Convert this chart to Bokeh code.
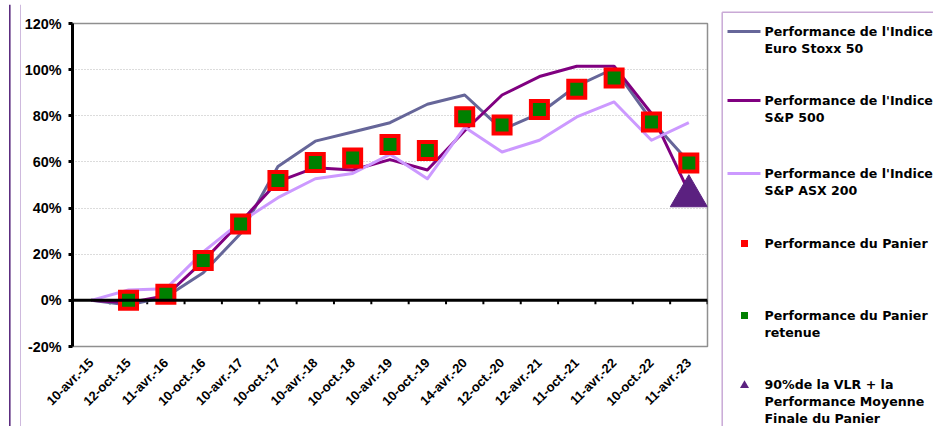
import math
from bokeh.plotting import figure
from bokeh.layouts import row, column
from bokeh.models import (FactorRange, Range1d, FixedTicker, PrintfTickFormatter, Span,
                          ColumnDataSource)
from bokeh.transform import dodge
from bokeh.core.properties import value
from bokeh.embed import file_html
from bokeh.resources import INLINE

# ---------------- data ----------------
dates = ["10-avr.-15", "12-oct.-15", "11-avr.-16", "10-oct.-16", "10-avr.-17", "10-oct.-17",
         "10-avr.-18", "10-oct.-18", "10-avr.-19", "10-oct.-19", "14-avr.-20", "12-oct.-20",
         "12-avr.-21", "11-oct.-21", "11-avr.-22", "10-oct.-22", "11-avr.-23"]
euro_stoxx = [0, -2, 1.5, 12, 29, 58, 69, 73, 77, 85, 89, 74, 81, 93, 100.5, 78, 60]
sp500 = [0, -1, 2, 17, 34, 51.5, 57.5, 56.5, 61, 56.5, 73.5, 89, 97, 101.5, 101.5, 81, 47]
asx200 = [0, 4.5, 5, 21, 34, 44.5, 52.7, 55, 63.3, 52.7, 75, 64.3, 69.4, 79.5, 86, 69.4, 77]
panier_dates = dates[1:]
panier = [0, 2.7, 17.3, 33.1, 52, 59.7, 61.7, 67.6, 65, 79.6, 76, 82.7, 91.5, 96.4, 77.3, 59.5]
panier_retenue = [0, 2.7, 17.3, 33.1, 52, 59.7, 61.7, 67.6, 65, 79.6, 76, 82.7, 91.5, 96.4, 77.3, 59.5]
vlr_dates = ["11-avr.-23"]
vlr_values = [47.6]
y_ticks = [-20, 0, 20, 40, 60, 80, 100, 120]

legend_labels = [
    ["Performance de l'Indice", "Euro Stoxx 50"],
    ["Performance de l'Indice", "S&P 500"],
    ["Performance de l'Indice", "S&P ASX 200"],
    ["Performance du Panier"],
    ["Performance du Panier", "retenue"],
    ["90%de la VLR + la", "Performance Moyenne", "Finale du Panier"],
]

# ---------------- styles / geometry (page pixels) ----------------
C_EURO = "#666699"
C_SP = "#800080"
C_ASX = "#CC99FF"
C_RED = "#FF0000"
C_GREEN = "#008000"
C_TRI = "#5B2180"
C_FRAME = "#5c2d80"
W_TOTAL, H_TOTAL = 933, 426
TOP_H = 4
ROW_H = H_TOTAL - TOP_H
STRIP_W = 21
LEG_X0 = 715
FL, FR, FT, FB = 71, 707, 23, 346


def deco_fig(x0, x1, y0, y1):
    f = figure(width=x1 - x0, height=y1 - y0, x_range=Range1d(x0, x1), y_range=Range1d(y1, y0),
               output_backend="svg", toolbar_location=None, min_border=0,
               x_axis_location=None, y_axis_location=None, frame_align=False)
    f.outline_line_color = None
    f.grid.visible = False
    return f


# top rule
top = deco_fig(0, W_TOTAL, 0, TOP_H)
top.quad(left=[8], right=[W_TOTAL], top=[0], bottom=[3.6], fill_color=C_FRAME, line_color=None)

# left rules
strip = deco_fig(0, STRIP_W, TOP_H, H_TOTAL)
strip.line([9.3, 9.3], [TOP_H, H_TOTAL], line_color=C_FRAME, line_width=1.6)
strip.line([20.6, 20.6], [TOP_H, H_TOTAL], line_color="#9466b4", line_width=1.1)

# ---------------- main chart ----------------
p = figure(x_range=FactorRange(factors=dates), y_range=Range1d(-20, 120),
           width=LEG_X0 - STRIP_W, height=ROW_H, output_backend="svg", toolbar_location=None,
           min_border_left=FL - STRIP_W, min_border_right=LEG_X0 - FR,
           min_border_top=FT - TOP_H, min_border_bottom=H_TOTAL - FB, frame_align=False)
p.outline_line_color = "#8f8f8f"
p.outline_line_width = 1.5
p.xgrid.visible = False
p.ygrid.grid_line_color = "#b8b8b8"
p.ygrid.grid_line_dash = "1 2"
p.ygrid.grid_line_width = 1

p.yaxis.ticker = FixedTicker(ticks=y_ticks)
p.yaxis.formatter = PrintfTickFormatter(format="%d%%")
p.yaxis.axis_line_color = "black"
p.yaxis.axis_line_width = 3
p.yaxis.major_tick_line_color = "black"
p.yaxis.major_tick_line_width = 3
p.yaxis.major_tick_out = 4
p.yaxis.major_tick_in = 0
p.yaxis.minor_tick_line_color = None
p.yaxis.major_label_standoff = 7
p.yaxis.major_label_text_font = "Liberation Sans"
p.yaxis.major_label_text_font_style = "bold"
p.yaxis.major_label_text_font_size = "14.4px"
p.yaxis.major_label_text_color = "black"

p.xaxis.axis_line_color = None
p.xaxis.major_tick_line_color = None
p.xaxis.minor_tick_line_color = None
p.xaxis.major_label_orientation = math.pi / 4
p.xaxis.major_label_standoff = 8
p.xaxis.major_label_text_font = "Liberation Sans"
p.xaxis.major_label_text_font_style = "bold"
p.xaxis.major_label_text_font_size = "13px"
p.xaxis.major_label_text_color = "black"

# zero axis line with small tick marks at category boundaries
p.add_layout(Span(location=0, dimension="width", line_color="black", line_width=3))
p.segment(x0=[(d, 0.5) for d in dates], y0=[0] * len(dates),
          x1=[(d, 0.5) for d in dates], y1=[-1.7] * len(dates),
          line_color="black", line_width=2)

p.line(dates, euro_stoxx, line_color=C_EURO, line_width=3, line_join="round")
p.line(dates, sp500, line_color=C_SP, line_width=3, line_join="round")
p.line(dates, asx200, line_color=C_ASX, line_width=3, line_join="round")

p.scatter(panier_dates, panier, marker="square", size=21, fill_color=C_RED, line_color=None)
p.scatter(panier_dates, panier_retenue, marker="square", size=13, fill_color=C_GREEN, line_color=None)

tri_src = ColumnDataSource(data=dict(x=vlr_dates, y=vlr_values))
p.scatter(x="x", y=dodge("y", -2.4), source=tri_src, marker="triangle", size=37,
          fill_color=C_TRI, line_color=C_TRI)

# ---------------- legend panel ----------------
lg = deco_fig(LEG_X0, W_TOTAL, TOP_H, H_TOTAL)
lg.line([721.7, 721.7], [11.7, H_TOTAL], line_color="#c9a9d6", line_width=1.5)
lg.line([721.7, W_TOTAL], [11.7, 11.7], line_color="#c9a9d6", line_width=1.5)

row_y = [31, 100, 173, 243, 315, 384]
line_h = 17
tx, ty, tt = [], [], []
for ry, labels in zip(row_y, legend_labels):
    for k, lab in enumerate(labels):
        tx.append(764)
        ty.append(ry + k * line_h)
        tt.append(lab)
lg.text(x=tx, y=ty, text=tt, text_font=value("DejaVu Sans"), text_font_style="bold",
        text_font_size=value("12.6px"), text_baseline="middle", text_align="left",
        text_color="black")

for ry, col in zip(row_y[:3], [C_EURO, C_SP, C_ASX]):
    lg.line([727, 760], [ry, ry], line_color=col, line_width=3)
lg.scatter([744], [row_y[3]], marker="square", size=7, fill_color=C_RED, line_color=None)
lg.scatter([744], [row_y[4]], marker="square", size=7, fill_color=C_GREEN, line_color=None)
lg.scatter([744], [row_y[5] + 1], marker="triangle", size=9, fill_color=C_TRI, line_color=None)

layout = column(top, row(strip, p, lg))
open("out.html", "w").write(file_html(layout, INLINE))
